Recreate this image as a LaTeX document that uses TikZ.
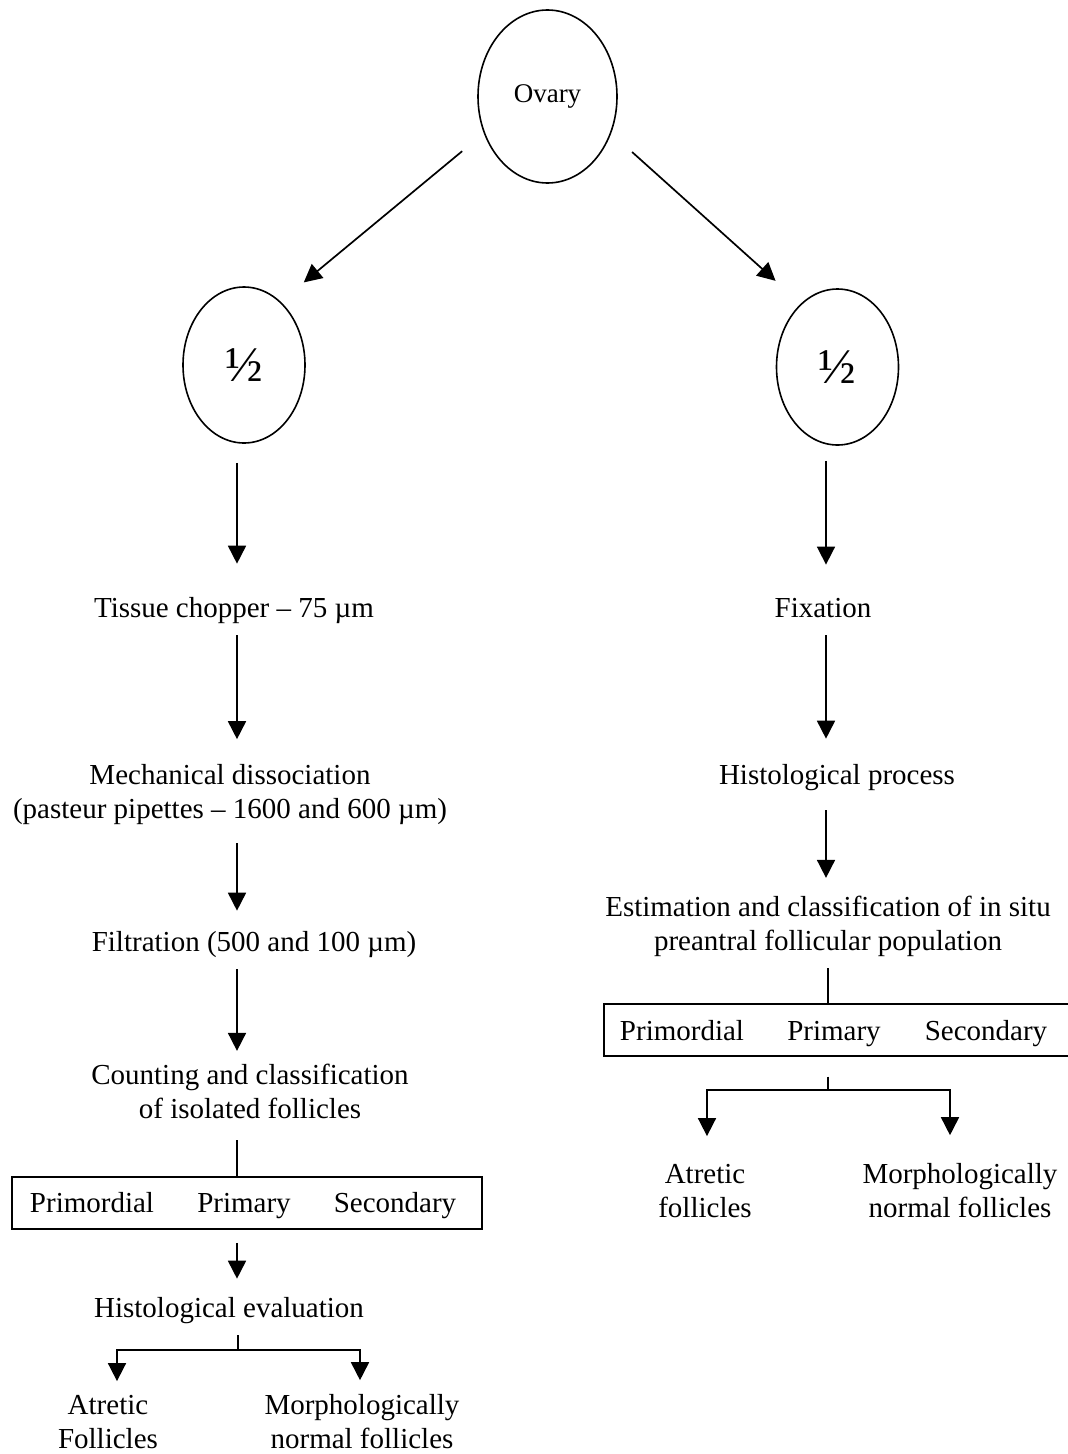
\documentclass[tikz,border=0pt]{standalone}
\usepackage{fontspec}
\setmainfont{Liberation Serif}
\usetikzlibrary{arrows.meta,shapes.geometric}
\begin{document}
\begin{tikzpicture}[x=1pt,y=-1pt,
  every node/.style={inner sep=0pt, font=\fontsize{29}{33.5}\selectfont},
  lbl/.style={anchor=base, align=center},
  oval/.style={draw, ellipse, line width=1.6pt},
  ln/.style={line width=1.7pt},
  arr/.style={ln, -{Triangle[length=18pt,width=18pt]}},
  catbox/.style={draw, line width=1.6pt, rectangle}]
\useasboundingbox (0,0) rectangle (1068,1454);
\fill[white] (0,0) rectangle (1068,1454);

% top
\node[oval, minimum width=139pt, minimum height=173pt, font=\fontsize{27}{30}\selectfont] (ovary) at (547.5,96.5) {Ovary};
\node[oval, minimum width=122pt, minimum height=156pt, font=\fontsize{50}{50}\selectfont] (halfL) at (244,365) {½};
\node[oval, minimum width=122pt, minimum height=156pt, font=\fontsize{50}{50}\selectfont] (halfR) at (837.5,367) {½};
\draw[arr, shorten <=28pt, shorten >=30pt] (ovary.210) -- (halfL.60);
\draw[arr, shorten <=28pt, shorten >=34pt] (ovary.-30) -- (halfR.120);

% left column (base anchor of two-line nodes = last line)
\coordinate (axL) at (237,0);
\node[lbl] (tc) at (234,617) {Tissue chopper – 75 µm};
\node[lbl] (md) at (230,818) {Mechanical dissociation\\(pasteur pipettes – 1600 and 600 µm)};
\node[lbl] (fil) at (254,951) {Filtration (500 and 100 µm)};
\node[lbl] (cnt) at (250,1118) {Counting and classification\\of isolated follicles};
\node[catbox, minimum width=470pt, minimum height=52pt] (boxL) at (247,1203) {};
\node[anchor=base] (pL1) at (92,1212) {Primordial};
\node[anchor=base] (pL2) at (244,1212) {Primary};
\node[anchor=base] (pL3) at (395,1212) {Secondary};
\node[lbl] (he) at (229,1317) {Histological evaluation};
\node[lbl] (atL) at (108,1448) {Atretic\\Follicles};
\node[lbl] (mnL) at (362,1448) {Morphologically\\normal follicles};

\draw[arr, shorten <=19pt, shorten >=33pt] (halfL.south -| axL) -- (tc.north -| axL);
\draw[arr, shorten <=12pt, shorten >=25pt] (tc.south -| axL) -- (md.north -| axL);
\draw[arr, shorten <=19pt, shorten >=20pt] (md.south -| axL) -- (fil.north -| axL);
\draw[arr, shorten <=12pt, shorten >=13pt] (fil.south -| axL) -- (cnt.north -| axL);
\draw[ln, shorten <=22pt] (cnt.south -| axL) -- (boxL.north -| axL);
\draw[arr, shorten <=13pt, shorten >=18pt] (boxL.south -| axL) -- (he.north -| axL);
\coordinate (jL) at (238,1350);
\draw[ln, shorten <=12pt] (he.south -| jL) -- (jL);
\draw[arr, shorten >=14pt] (jL) -| ([xshift=9pt]atL.north);
\draw[arr, shorten >=14pt] (jL) -| ([xshift=-2pt]mnL.north);

% right column
\coordinate (axR) at (826,0);
\coordinate (axR2) at (828,0);
\node[lbl] (fix) at (823,617) {Fixation};
\node[lbl] (hp) at (837,784) {Histological process};
\node[lbl] (est) at (828,950) {Estimation and classification of in situ\\preantral follicular population};
\node[catbox, minimum width=480pt, minimum height=52pt, anchor=north west] (boxR) at (603,1003) {};
\node[anchor=base] (pR1) at (682,1040) {Primordial};
\node[anchor=base] (pR2) at (834,1040) {Primary};
\node[anchor=base] (pR3) at (986,1040) {Secondary};
\node[lbl] (atR) at (705,1217) {Atretic\\follicles};
\node[lbl] (mnR) at (960,1217) {Morphologically\\normal follicles};

\draw[arr, shorten <=15pt, shorten >=33pt] (halfR.south -| axR) -- (fix.north -| axR);
\draw[arr, shorten <=18pt, shorten >=25pt] (fix.south -| axR) -- (hp.north -| axR);
\draw[arr, shorten <=20pt, shorten >=18pt] (hp.south -| axR) -- (est.north -| axR);
\draw[ln, shorten <=12pt] (est.south -| axR2) -- (boxR.north -| axR2);
\coordinate (jR) at (828,1090);
\draw[ln, shorten <=20pt] (boxR.south -| jR) -- (jR);
\draw[arr, shorten >=28pt] (jR) -| ([xshift=2pt]atR.north);
\draw[arr, shorten >=28pt] (jR) -| ([xshift=-10pt]mnR.north);
\end{tikzpicture}
\end{document}
